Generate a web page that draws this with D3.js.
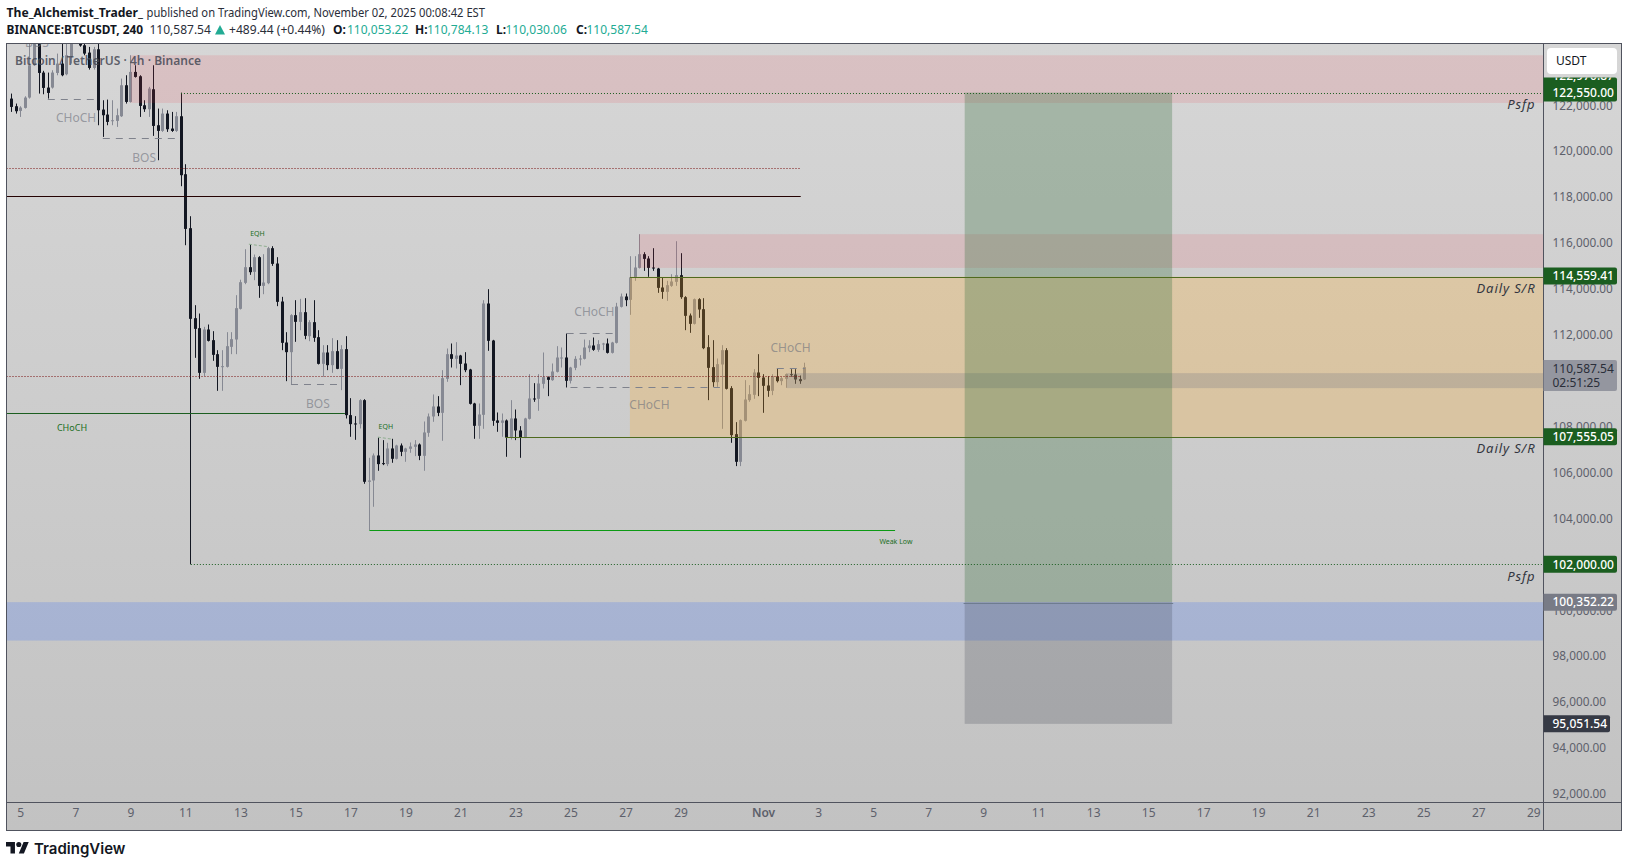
<!DOCTYPE html>
<html>
<head>
<meta charset="utf-8">
<script src="https://d3js.org/d3.v7.min.js"></script>
<style>
  html, body { margin: 0; padding: 0; background: #fff; }
  svg { display: block; }
  text { font-family: "Noto Sans", sans-serif; }
</style>
</head>
<body>
<div id="graph-section"></div>
<script>
// 4h candles, oldest first
var opens = [
  122290,121957,121753,121884,122334,123742,125100,123423,122770,122770,
  123408,123815,123350,124134,125000,124900,124613,124294,123626,124439,
  121811,121594,121318,121318,121521,122871,122145,123452,123263,122000,
  121826,122697,121129,120882,121637,120984,120882,121521,118995,116644,
  112724,112288,110343,112230,111766,111156,110604,110604,111475,111795,
  113131,114263,114945,114742,115381,114132,114248,115773,115105,113450,
  111664,111243,112855,112564,112985,111940,112550,111896,110735,111229,
  110677,111287,110517,
  111374,108500,108137,108108,109153,105596,105654,106743,106409,106366,
  107048,106598,107178,106903,107033,107120,107222,106728,107730,108442,
  108877,108601,110082,111156,110953,111098,110750,110488,109008,108035,
  108514,113363,111751,108268,108166,108268,107527,108355,107832,107527,
  108340,109225,109211,109864,110155,110024,110387,110997,111011,109995,
  110561,110953,110953,111418,111534,111345,111606,111621,111214,111650,
  113218,113668,
  113522,114495,114916,115511,115323,114931,114887,114060,113871,114132,
  114306,114597,113639,112840,112477,113551,113116,111461,110590,109937,
  110706,111330,109675,107672,106467,108253,109153,109385,110358,110140,
  109792,109559,110184,109980,110082,110285,110271,110068,110053.22
];
var highs = [
  122508,122073,121957,122392,124686,125267,125300,123500,123423,123524,
  124250,124686,124700,124976,125200,125100,124831,124541,124541,124700,
  122218,122247,122218,121855,123162,123307,124178,123742,123307,122218,
  122800,123742,121855,121855,121782,121710,121710,122550,119431,117166,
  113290,112927,112347,112448,112158,111330,111330,112114,112114,113726,
  114400,115729,115947,115497,115424,115511,115831,115860,115381,113653,
  112114,112898,113508,113566,113595,112637,113508,112201,111548,111548,
  111853,111766,111548,
  111940,109240,108456,109196,109196,106641,106830,107527,107411,107295,
  107469,107210,107266,107077,107309,107411,107266,108224,108572,109400,
  109327,110459,111403,111621,111679,111127,111243,110517,109037,109008,
  113508,113987,111780,108616,108572,108311,109153,108746,108021,108384,
  110285,109893,110285,111229,110184,110750,111505,111447,112056,110604,
  111069,111113,111795,111766,111882,111766,111650,111838,111693,113392,
  113798,113798,
  115424,115424,116382,115598,115424,115773,114916,114495,114350,114640,
  116077,115555,113682,112927,113580,113595,113595,111984,111766,110967,
  111548,111417,109763,108195,108311,110024,109806,110503,111156,110285,
  110198,110285,110532,110169,110314,110503,110503,110227,110784.13
];
var lows = [
  121710,121637,121492,121855,122290,123713,122508,122479,122290,122726,
  123306,123263,123306,123815,124700,124550,124178,123553,123553,121129,
  120621,121129,121129,121057,121492,122073,122116,123205,121492,121710,
  121492,120665,119605,120839,120839,120839,120839,118473,115903,102000,
  110996,110082,110198,111708,110866,109559,109559,110575,111156,111156,
  113101,114205,114611,114379,113610,113769,114205,115003,113247,111330,
  109980,109835,111693,112201,111809,111722,111693,110706,110169,110459,
  110343,110503,109588,
  108354,107556,107425,107919,105509,103496,104507,106075,106322,106278,
  106424,106569,106714,106467,106859,106714,106539,106075,107556,108209,
  108456,107382,109951,110575,110532,109806,110372,108964,107469,107469,
  107904,111301,108035,107774,107556,106685,107440,107411,106641,107498,
  108311,109080,108688,109661,109327,109995,110358,110575,109705,109879,
  110459,110663,110924,111243,111301,111258,111330,111185,111185,111621,
  113189,113247,
  112869,114350,114887,114785,114524,114785,113827,113566,113479,114089,
  114132,113566,112201,112085,112448,112739,111374,109153,109733,109733,
  107904,109617,107295,106279,106279,108224,109080,109211,109327,108601,
  109298,109371,109922,109806,109690,110169,109864,109864,110030.06
];
var closes = [
  121927,121739,121899,122334,123742,125100,123408,122755,122537,123423,
  123815,123306,124178,124831,124750,124600,124250,123626,124439,121782,
  121565,121274,121347,121565,122871,122145,123452,123234,121971,121826,
  122726,121100,120882,121637,120955,120882,121521,118952,116613,112695,
  112259,110343,112230,111737,111127,110604,110633,111504,111809,113160,
  114292,114945,114727,115381,114132,114277,115773,115090,113435,111650,
  111243,112855,112564,112985,111955,112550,111867,110735,111229,110677,
  111287,110517,111374,
  108500,108108,108122,109153,105596,105654,106743,106366,106366,107048,
  106598,107178,106903,107048,107135,107222,106728,107745,108442,108877,
  108601,110111,111156,110953,111098,110735,110459,108993,108035,108529,
  113363,111737,108253,108166,108268,107527,108355,107832,107527,108355,
  109225,109211,109879,110155,110038,110401,111011,111011,109995,110575,
  110953,110967,111447,111534,111345,111592,111621,111214,111664,113232,
  113668,113508,
  114495,114931,115511,115308,114916,114902,114045,113871,114161,114321,
  114597,113639,112826,112477,113551,113102,111417,110561,109937,110721,
  111330,109646,107629,106467,108282,109182,109414,110358,110125,109777,
  109559,110198,109980,110111,110285,110256,110053,109980,110587.54
];
// day number counted from Oct 1 (Nov 1 = 32); the last bar sits on day 33.5
var lastBarDay = 33.5;
var tickDays = [5,7,9,11,13,15,17,19,21,23,25,27,29,32,34,36,38,40,42,44,46,48,50,52,54,56,58,60];
var tickNames = ["5","7","9","11","13","15","17","19","21","23","25","27","29","Nov","3","5","7","9","11","13","15","17","19","21","23","25","27","29"];
var priceTicks = [92000,94000,96000,98000,100000,102000,104000,106000,108000,110000,112000,114000,116000,118000,120000,122000];

// zones [top price, bottom price]
var supplyTop = [124178, 122100];
var supplyMid = [116382, 114915];
var dailyZone = [114530, 107555.05];
var demandZone = [100352.22, 98680];
var priceBand = [110329, 109676];
// long position
var entryPrice = 100352.22, targetPrice = 122550, stopPrice = 95051.54;
var positionDays = [39.33, 46.87];
// levels
var greenLevels = [122550, 114559.41, 107555.05, 102000];
var dottedRedLevels = [119257, 110200];
var solidRedLevel = 118040;
var chochLevel = 108574;
var weakLowLevel = 103491;
// dashed structure lines: price, from day, to day
var dashPrices = [122262, 120563, 109850, 112071, 109741, 110547];
var dashFrom = [6.0, 8.0, 14.84, 24.86, 25.0, 32.5];
var dashTo = [7.79, 10.62, 16.62, 26.62, 30.43, 33.52];
// text labels on the chart
var grayLabels = ["CHoCH","BOS","BOS","CHoCH","CHoCH","CHoCH"];
var grayLabelDays = [7.03, 9.5, 15.82, 25.87, 27.87, 33.0];
var grayLabelPrices = [121434, 119692, 108979, 113007, 108935, 111417];
var noteLabels = ["Psfp","Daily S/R","Daily S/R","Psfp"];
var notePrices = [122044, 114009, 107063, 101458];

var fullWidth = 1628, fullHeight = 867;
var plot = {left: 6.5, right: 1543.5, top: 43.5, bottom: 802.5, axisRight: 1621.5, axisBottom: 830.5};
var font = '"Noto Sans", sans-serif';

var svg = d3.select('div#graph-section').append('svg')
    .attr('width', fullWidth)
    .attr('height', fullHeight);

var defs = svg.append('defs');
var grad = defs.append('linearGradient').attr('id', 'bg').attr('x1', 0).attr('y1', 0).attr('x2', 0).attr('y2', 1);
grad.append('stop').attr('offset', '0%').attr('stop-color', '#d6d6d6');
grad.append('stop').attr('offset', '100%').attr('stop-color', '#c2c2c2');
defs.append('clipPath').attr('id', 'plot-clip').append('rect')
    .attr('x', plot.left).attr('y', plot.top)
    .attr('width', plot.right - plot.left).attr('height', plot.bottom - plot.top);
// the tag hiding under the currency button only shows inside the green rect
defs.append('clipPath').attr('id', 'tag-clip').append('rect')
    .attr('x', plot.right).attr('y', 77.4).attr('width', 74).attr('height', 24);

var dayScale = d3.scaleLinear().domain([5, 60]).range([20.3, 1533.3]);
var priceScale = d3.scaleLinear().domain([124690, 91625]).range([43.5, 802.5]);

// background panel
svg.append('rect')
    .attr('x', plot.left).attr('y', plot.top)
    .attr('width', plot.axisRight - plot.left).attr('height', plot.axisBottom - plot.top)
    .attr('fill', 'url(#bg)');

// axes go in first, price tags cover them
var yAxis = d3.axisRight(priceScale)
    .tickValues(priceTicks)
    .tickSize(0)
    .tickPadding(9)
    .tickFormat(d3.format(',.2f'));
var yAxisEle = svg.append('g').attr('transform', 'translate(' + plot.right + ',0)').call(yAxis);
yAxisEle.select('.domain').remove();
yAxisEle.selectAll('text').style('font-size', '11.8px').style('fill', '#5d606b').style('font-family', font);

var xAxis = d3.axisBottom(dayScale)
    .tickValues(tickDays)
    .tickSize(0)
    .tickPadding(6)
    .tickFormat(function(d, i) { return tickNames[i]; });
var xAxisEle = svg.append('g').attr('transform', 'translate(0,' + plot.bottom + ')').call(xAxis);
xAxisEle.select('.domain').remove();
xAxisEle.selectAll('text').style('font-size', '12px').style('fill', '#5d606b').style('font-family', font)
    .style('font-weight', function(d, i) { return tickNames[i] == 'Nov' ? 600 : 400; });

var chart = svg.append('g').attr('clip-path', 'url(#plot-clip)');

function zone(prices, d0, d1, fill) {
    var g = chart.append('rect')
        .attr('x', d0 == null ? plot.left : dayScale(d0))
        .attr('y', priceScale(prices[0]))
        .attr('width', (d1 == null ? plot.right : dayScale(d1)) - (d0 == null ? plot.left : dayScale(d0)))
        .attr('height', priceScale(prices[1]) - priceScale(prices[0]))
        .attr('fill', fill);
    return g;
}

zone(demandZone, null, null, 'rgba(41,98,255,0.2)');

// candles
var n = closes.length;
var candleIdx = d3.range(n);
function barX(i) { return Math.round(dayScale(lastBarDay - (n - 1 - i) / 6)); }
var candleColor = function(i) { return closes[i] >= opens[i] ? '#868993' : '#131722'; };

chart.append('g').selectAll('line.wick')
    .data(candleIdx)
  .enter().append('line')
    .attr('x1', function(i) { return barX(i) + 0.5; })
    .attr('x2', function(i) { return barX(i) + 0.5; })
    .attr('y1', function(i) { return priceScale(highs[i]); })
    .attr('y2', function(i) { return priceScale(lows[i]); })
    .attr('stroke', candleColor)
    .attr('stroke-width', 1);
chart.append('g').selectAll('rect.body')
    .data(candleIdx)
  .enter().append('rect')
    .attr('x', function(i) { return barX(i) - 1; })
    .attr('width', 3)
    .attr('y', function(i) { return priceScale(Math.max(opens[i], closes[i])); })
    .attr('height', function(i) { return Math.max(1, Math.abs(priceScale(opens[i]) - priceScale(closes[i]))); })
    .attr('fill', candleColor);

// zones above the candles, they tint them
zone(supplyTop, 9.02, null, 'rgba(242,54,69,0.13)');
zone(supplyMid, 27.49, null, 'rgba(242,54,69,0.13)');
zone(dailyZone, 27.16, null, 'rgba(255,172,36,0.25)');
zone(priceBand, 32.87, null, 'rgba(120,123,134,0.28)');

// position box
zone([targetPrice, entryPrice], positionDays[0], positionDays[1], 'rgba(53,110,60,0.3)');
zone([entryPrice, stopPrice], positionDays[0], positionDays[1], 'rgba(40,44,60,0.2)');

function level(price, d0, d1, color, dash) {
    var yy = Math.round(priceScale(price)) + 0.5;
    var l = chart.append('line')
        .attr('x1', d0 == null ? plot.left : dayScale(d0))
        .attr('x2', d1 == null ? plot.right : dayScale(d1))
        .attr('y1', yy).attr('y2', yy)
        .attr('stroke', color).attr('stroke-width', 1);
    if (dash) l.attr('stroke-dasharray', dash);
    return l;
}

level(entryPrice - 45, positionDays[0] - 0.04, positionDays[1] + 0.04, '#6e7c90');
level(dottedRedLevels[0], null, 33.37, '#7a1010', '1,2');
level(dottedRedLevels[1], null, 33.37, '#7a1010', '1,2');
level(solidRedLevel, null, 33.37, '#250303');
level(chochLevel, null, 16.8, '#1b5e20');
level(dailyZone[0], 27.16, null, '#4f6a1e');
level(greenLevels[2], 22.64, null, '#4f6a1e');
level(weakLowLevel, 17.69, 36.8, '#0c9a14');
level(greenLevels[0], 10.84, null, '#1b5e20', '1,2');
level(greenLevels[3], 11.2, null, '#1b5e20', '1,2');

dashPrices.forEach(function(p, i) {
    level(p, dashFrom[i], dashTo[i], '#7f828c', '7,6');
});
// equal highs
chart.append('line')
    .attr('x1', dayScale(13.31)).attr('x2', dayScale(14.0))
    .attr('y1', priceScale(115947)).attr('y2', priceScale(115840))
    .attr('stroke', '#8fae90').attr('stroke-dasharray', '3,2');
chart.append('line')
    .attr('x1', dayScale(18.0)).attr('x2', dayScale(18.51))
    .attr('y1', priceScale(107542)).attr('y2', priceScale(107454))
    .attr('stroke', '#8fae90').attr('stroke-dasharray', '3,2');

// chart labels
grayLabels.forEach(function(t, i) {
    chart.append('text')
        .attr('x', dayScale(grayLabelDays[i]))
        .attr('y', priceScale(grayLabelPrices[i]))
        .attr('dy', '.35em')
        .attr('text-anchor', 'middle')
        .style('font-size', '12px')
        .style('fill', 'rgba(110,113,124,0.62)')
        .text(t);
});
function greenLabel(t, d, p, size) {
    chart.append('text')
        .attr('x', dayScale(d)).attr('y', priceScale(p))
        .attr('dy', '.35em').attr('text-anchor', 'middle')
        .style('font-size', size + 'px').style('fill', '#1b6e24')
        .text(t);
}
greenLabel('CHoCH', 6.88, 107934, 9);
greenLabel('EQH', 13.62, 116404, 7);
greenLabel('EQH', 18.29, 108000, 7);
greenLabel('Weak Low', 36.83, 103012, 7);

noteLabels.forEach(function(t, i) {
    chart.append('text')
        .attr('x', plot.right - 8)
        .attr('y', priceScale(notePrices[i]))
        .attr('dy', '.35em')
        .attr('text-anchor', 'end')
        .style('font-size', '13px')
        .style('font-style', 'italic')
        .style('letter-spacing', '0.9px')
        .style('fill', '#333640')
        .text(t);
});

// symbol watermark + clipped old label
chart.append('text').attr('x', 15).attr('y', 65)
    .attr('textLength', 186).attr('lengthAdjust', 'spacingAndGlyphs')
    .style('font-size', '13px').style('font-weight', 600)
    .style('fill', 'rgba(70,73,85,0.85)')
    .text('Bitcoin / TetherUS · 4h · Binance');
chart.append('text').attr('x', 25).attr('y', 46.5)
    .style('font-size', '12px').style('fill', 'rgba(110,113,124,0.62)')
    .text('BOS');

// frame
svg.append('rect')
    .attr('x', plot.left).attr('y', plot.top)
    .attr('width', plot.axisRight - plot.left).attr('height', plot.axisBottom - plot.top)
    .attr('fill', 'none').attr('stroke', '#50535e');
svg.append('line').attr('x1', plot.right).attr('x2', plot.right)
    .attr('y1', plot.top).attr('y2', plot.axisBottom).attr('stroke', '#50535e');
svg.append('line').attr('x1', plot.left).attr('x2', plot.axisRight)
    .attr('y1', plot.bottom).attr('y2', plot.bottom).attr('stroke', '#50535e');

// price tags
function tagShape(yc, h, w, fill) {
    svg.append('path')
        .attr('d', 'M' + plot.right + ',' + (yc - h / 2) + 'h' + (w - 2) + 'q2,0 2,2v' + (h - 4) + 'q0,2 -2,2h-' + (w - 2) + 'z')
        .attr('fill', fill);
}
function tagText(yc, t, color, weight) {
    return svg.append('text')
        .attr('x', plot.right + 9)
        .attr('y', yc)
        .attr('dy', '.35em')
        .style('font-size', '12px')
        .style('font-weight', weight)
        .style('fill', color)
        .text(t);
}
function priceTag(yc, h, w, fill, color, weight, lines) {
    tagShape(yc, h, w, fill);
    lines.forEach(function(t, i) {
        tagText(yc + (i - (lines.length - 1) / 2) * 14, t, color, weight);
    });
}
var fmt = d3.format(',.2f');
tagShape(89.4, 24, 73.5, '#1b5e20');
tagText(75.5, '122,970.87', '#ffffff', 500).attr('clip-path', 'url(#tag-clip)');
tagText(priceScale(greenLevels[0]), fmt(greenLevels[0]), '#ffffff', 500);
priceTag(priceScale(greenLevels[1]), 17, 73.5, '#1b5e20', '#ffffff', 500, [fmt(greenLevels[1])]);
priceTag(priceScale(greenLevels[2]), 17, 73.5, '#1b5e20', '#ffffff', 500, [fmt(greenLevels[2])]);
priceTag(priceScale(greenLevels[3]), 17, 73.5, '#1b5e20', '#ffffff', 500, [fmt(greenLevels[3])]);
priceTag(375.5, 31, 73.5, '#94969f', '#2a2e39', 400, [fmt(closes[n - 1]), '02:51:25']);
priceTag(priceScale(entryPrice), 17, 73.5, '#787b86', '#ffffff', 500, [fmt(entryPrice)]);
priceTag(priceScale(stopPrice), 17, 66.5, '#363a45', '#ffffff', 500, [fmt(stopPrice)]);

// currency button
svg.append('rect').attr('x', 1547).attr('y', 48).attr('width', 70).attr('height', 26).attr('rx', 4).attr('fill', '#ffffff');
svg.append('text').attr('x', 1556).attr('y', 61).attr('dy', '.35em')
    .style('font-size', '12px').style('fill', '#131722').text('USDT');

// header
function head(x, y, t, color, weight) {
    return svg.append('text').attr('x', x).attr('y', y).attr('dy', '.35em')
        .style('font-size', '12px').style('fill', color).style('font-weight', weight).text(t);
}
head(6.5, 12.5, 'The_Alchemist_Trader_', '#131722', 700).attr('textLength', 136.5).attr('lengthAdjust', 'spacingAndGlyphs');
head(146.5, 12.5, 'published on TradingView.com, November 02, 2025 00:08:42 EST', '#2a2e39', 400)
    .attr('textLength', 338.5).attr('lengthAdjust', 'spacingAndGlyphs');
head(6.5, 29.5, 'BINANCE:BTCUSDT, 240', '#131722', 700).attr('textLength', 136.5).attr('lengthAdjust', 'spacingAndGlyphs');
head(149.5, 29.5, fmt(closes[n - 1]), '#2a2e39', 400);
svg.append('path').attr('d', 'M215,34.5L220,25L225,34.5Z').attr('fill', '#22ab94');
head(229, 29.5, '+489.44 (+0.44%)', '#2a2e39', 400).attr('textLength', 96).attr('lengthAdjust', 'spacingAndGlyphs');
var ohlcLetters = ['O:', 'H:', 'L:', 'C:'];
var ohlcValues = [opens[n - 1], highs[n - 1], lows[n - 1], closes[n - 1]];
var ohlcX = [333, 415, 496, 576];
var ohlcValX = [347, 427, 505.5, 586.5];
ohlcLetters.forEach(function(t, i) {
    head(ohlcX[i], 29.5, t, '#131722', 700);
    head(ohlcValX[i], 29.5, fmt(ohlcValues[i]), '#22ab94', 400);
});

// TradingView logo
var logo = svg.append('g').attr('transform', 'translate(6,842) scale(0.64)').attr('fill', '#131722');
logo.append('path').attr('d', 'M14 18H7V7H0V0h14v18zM28 18h-8l7.5-18h8L28 18z');
logo.append('circle').attr('cx', 20).attr('cy', 4).attr('r', 4);
svg.append('text').attr('x', 34).attr('y', 853.5)
    .style('font-family', 'Inter, sans-serif')
    .style('font-size', '15px').style('font-weight', 600).style('fill', '#131722')
    .text('TradingView');
</script>
</body>
</html>
